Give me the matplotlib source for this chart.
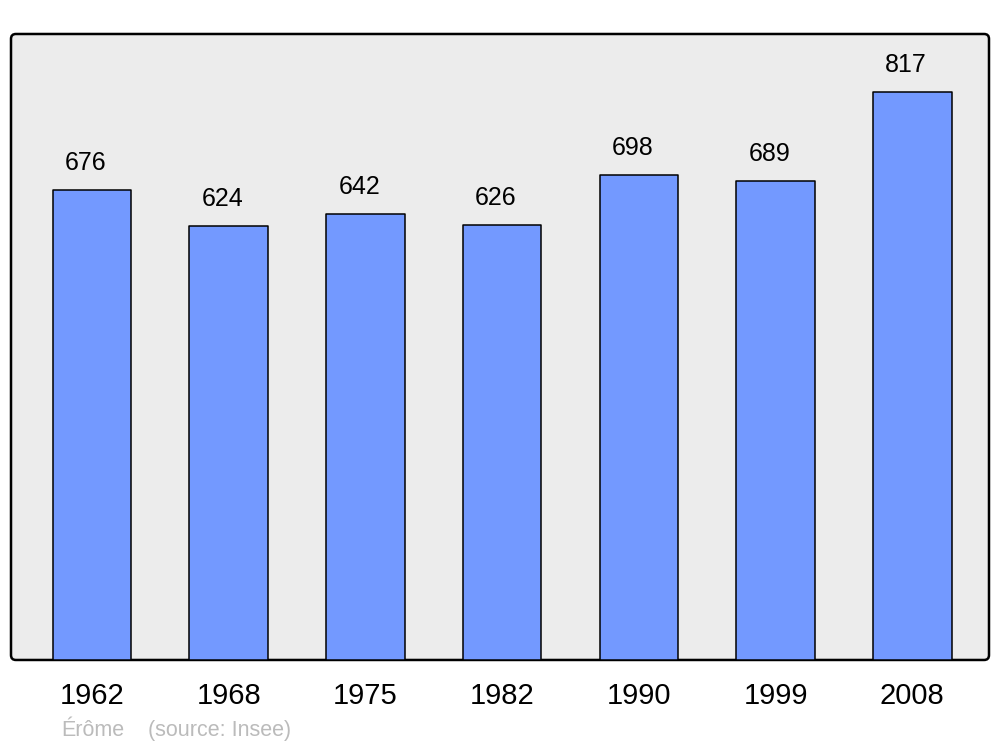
import matplotlib
matplotlib.use("Agg")
import matplotlib.pyplot as plt
from matplotlib.patches import FancyBboxPatch

years = ["1962", "1968", "1975", "1982", "1990", "1999", "2008"]
population = [676, 624, 642, 626, 698, 689, 817]
commune = "Érôme"
source = "(source: Insee)"

plt.rcParams['font.family'] = ['Liberation Sans', 'DejaVu Sans']

fig = plt.figure(figsize=(10, 7.47), dpi=100)
ax = fig.add_axes([0.011, 0.1165, 0.978, 0.838])

# rounded grey frame instead of plain spines
ax.patch.set_visible(False)
for s in ax.spines.values():
    s.set_visible(False)
frame = FancyBboxPatch((0, 0), 1, 1, boxstyle="round,pad=0,rounding_size=0.005",
                       mutation_aspect=978 / 626, transform=ax.transAxes,
                       facecolor="#ececec", edgecolor="black", linewidth=1.8,
                       zorder=0, clip_on=False)
ax.add_patch(frame)

x = list(range(len(years)))
bars = ax.bar(x, population, width=0.575, color="#7399ff", edgecolor="black",
              linewidth=1.1, zorder=2)
for b in bars:
    b.set_joinstyle("round")

for xi, v in zip(x, population):
    ax.annotate(str(v), (xi, v), xytext=(-4.5, 19.5), textcoords="offset points",
                ha="center", va="center", fontsize=18, zorder=3)

ax.set_xlim(-0.593, 6.561)
ax.set_ylim(0, 900.7)
ax.set_yticks([])
ax.set_xticks(x)
ax.set_xticklabels(years, fontsize=21)
ax.tick_params(axis="x", length=0, pad=16)

fig.text(0.061, 0.0225, commune, fontsize=15.5, color="#bbbbbb", ha="left", va="center")
fig.text(0.148, 0.0225, source, fontsize=15.5, color="#bbbbbb", ha="left", va="center")

fig.savefig("out.png", dpi=100)
